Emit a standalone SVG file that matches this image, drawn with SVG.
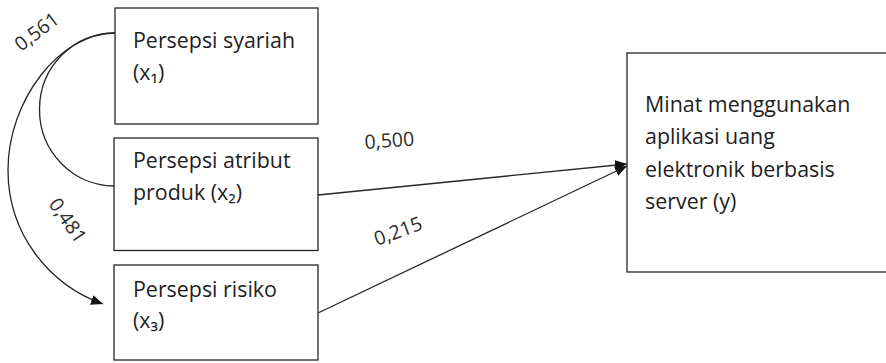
<svg xmlns="http://www.w3.org/2000/svg" width="886" height="363" viewBox="0 0 886 363">
  <style>
    .box { fill: #ffffff; stroke: #262626; stroke-width: 1.3; }
    .txt { font-family: "Open Sans", "Noto Sans", "DejaVu Sans", sans-serif; font-size: 21.4px; fill: #1e1e1e; }
    .lbl { font-family: "Open Sans", "Noto Sans", "DejaVu Sans", sans-serif; font-size: 19.5px; fill: #2a2a2a; }
    .edge { fill: none; stroke: #262626; stroke-width: 1.3; }
  </style>
  <defs>
    <marker id="arrow" viewBox="0 0 12 10" refX="12" refY="5" markerWidth="12" markerHeight="10" markerUnits="userSpaceOnUse" orient="auto">
      <path d="M0,0 L12,5 L0,10 Z" fill="#111111"/>
    </marker>
  </defs>
  <rect width="886" height="363" fill="#ffffff"/>

  <!-- connectors -->
  <g id="connectors">
    <!-- correlation x1 - x2 -->
    <path class="edge" d="M115,33 A75,76.5 0 0 0 114,186"/>
    <!-- correlation x1 - x3 -->
    <path class="edge" d="M115,33 C60,33 8,100 8,170 C8,235 50,285 103,304" marker-end="url(#arrow)"/>
    <!-- paths to y -->
    <path class="edge" d="M318,195 L627,164" marker-end="url(#arrow)"/>
    <path class="edge" d="M318,313 L627,166" marker-end="url(#arrow)"/>
    <text class="lbl" transform="translate(21,52) rotate(-37)">0,561</text>
    <text class="lbl" transform="translate(48,204) rotate(55)">0,481</text>
    <text class="lbl" transform="translate(365,149) rotate(-4)">0,500</text>
    <text class="lbl" transform="translate(377,246) rotate(-20)">0,215</text>
  </g>

  <g id="node-x1">
    <rect class="box" x="115" y="8" width="203" height="116"/>
    <text class="txt" x="133" y="48">Persepsi syariah</text>
    <text class="txt" x="133" y="80">(x₁)</text>
  </g>

  <g id="node-x2">
    <rect class="box" x="114" y="138" width="204" height="112.5"/>
    <text class="txt" x="133" y="168">Persepsi atribut</text>
    <text class="txt" x="133" y="200">produk (x₂)</text>
  </g>

  <g id="node-x3">
    <rect class="box" x="114" y="265" width="204" height="95"/>
    <text class="txt" x="133" y="297">Persepsi risiko</text>
    <text class="txt" x="133" y="328">(x₃)</text>
  </g>

  <g id="node-y">
    <rect class="box" x="627" y="53" width="262" height="219"/>
    <text class="txt" x="645" y="112">Minat menggunakan</text>
    <text class="txt" x="645" y="144">aplikasi uang</text>
    <text class="txt" x="645" y="177">elektronik berbasis</text>
    <text class="txt" x="645" y="209">server (y)</text>
  </g>
</svg>
